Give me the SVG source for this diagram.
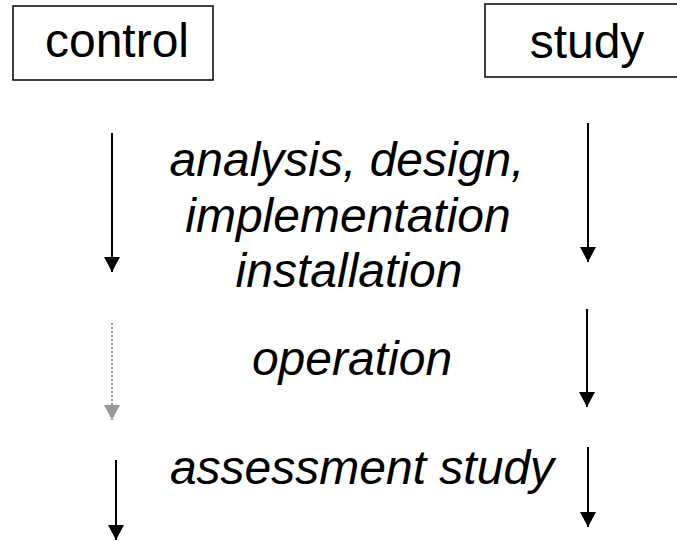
<svg xmlns="http://www.w3.org/2000/svg" width="677" height="541" viewBox="0 0 677 541">
<style>
.box{fill:#fff;stroke:#000;stroke-width:1.5}
.t{font-family:"Liberation Sans",Arial,sans-serif;font-size:48px;fill:#000;text-anchor:middle}
.i{font-style:italic}
.ln{stroke:#000;stroke-width:2;fill:none}
.dot{stroke:#999;stroke-width:2;stroke-dasharray:2,2;fill:none}
</style>
<defs>
<marker id="ah" markerWidth="15" markerHeight="16" refX="15" refY="8" orient="auto" markerUnits="userSpaceOnUse" viewBox="0 0 15 16"><path d="M0,0 L15,8 L0,16 Z" fill="#000"/></marker>
<marker id="ahg" markerWidth="15" markerHeight="16" refX="15" refY="8" orient="auto" markerUnits="userSpaceOnUse" viewBox="0 0 15 16"><path d="M0,0 L15,8 L0,16 Z" fill="#999"/></marker>
</defs>
<rect width="677" height="541" fill="#fff"/>
<g id="control">
<rect class="box" x="13" y="6" width="200" height="74"/>
<text class="t" x="117" y="57">control</text>
</g>
<g id="study">
<rect class="box" x="485" y="4" width="200" height="73"/>
<text class="t" x="587" y="58">study</text>
</g>
<g id="labels">
<text class="t i" x="347" y="176">analysis, design,</text>
<text class="t i" x="348" y="232">implementation</text>
<text class="t i" x="349" y="287">installation</text>
<text class="t i" x="352" y="375">operation</text>
<text class="t i" x="362" y="484">assessment study</text>
</g>
<g id="connectors">
<path class="ln" d="M112,133 V272" marker-end="url(#ah)"/>
<path class="dot" d="M112,323 V420" marker-end="url(#ahg)"/>
<path class="ln" d="M116,460 V540" marker-end="url(#ah)"/>
<path class="ln" d="M588,123 V262" marker-end="url(#ah)"/>
<path class="ln" d="M587,309 V407" marker-end="url(#ah)"/>
<path class="ln" d="M588,447 V527" marker-end="url(#ah)"/>
</g>
</svg>
